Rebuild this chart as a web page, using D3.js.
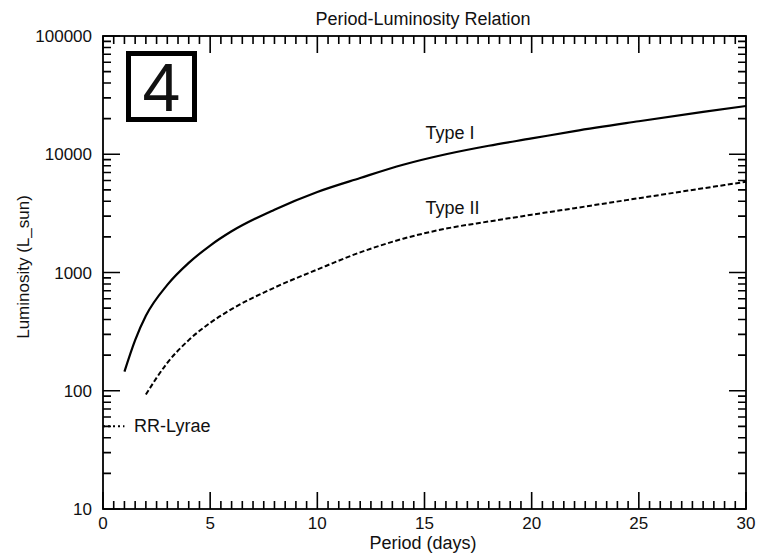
<!DOCTYPE html>
<html><head><meta charset="utf-8">
<script src="https://cdn.jsdelivr.net/npm/d3@7"></script>
<style>html,body{margin:0;padding:0;background:#fff;} svg{display:block;} text{font-family:"Liberation Sans",Arial,sans-serif;fill:#111;}</style>
</head><body>
<svg id="c" width="771" height="555"></svg>
<script>
// ---- data ----
const typeIPeriods = [1, 1.5, 2, 3, 4, 5, 6, 8, 10, 12, 14, 16, 18, 20, 22, 25, 28, 30];
const typeILum     = [145, 268, 430, 785, 1205, 1690, 2230, 3400, 4800, 6300, 8150, 10000, 11800, 13600, 15700, 19000, 22800, 25600];
const typeIIPeriods = [2, 3, 4, 5, 6, 8, 10, 12, 14, 16, 18, 20, 22, 25, 28, 30];
const typeIILum     = [93, 172, 268, 375, 490, 745, 1060, 1480, 1930, 2350, 2700, 3080, 3500, 4250, 5150, 5850];
const rrPeriods = [0, 1];
const rrLum = [50, 50];
const xMajorTicks = [0, 5, 10, 15, 20, 25, 30];
const yMajorTicks = [10, 100, 1000, 10000, 100000];
const yTickLabels = ["10", "100", "1000", "10000", "100000"];
const labels = {title: "Period-Luminosity Relation", x: "Period (days)", y: "Luminosity (L_sun)", panel: "4",
  typeI: "Type I", typeII: "Type II", rr: "RR-Lyrae"};

// ---- layout ----
const L = 103, R = 746, T = 36, B = 509;
const svg = d3.select("#c");
const x = d3.scaleLinear().domain([0, 30]).range([L, R]);
const y = d3.scaleLog().domain([10, 100000]).range([B, T]);

const xMinor = d3.range(0, 30.001, 0.5).filter(v => Math.abs(v % 5) > 1e-6);
const yMinor = [];
for (let i = 0; i < yMajorTicks.length - 1; i++) for (let k = 2; k <= 9; k++) yMinor.push(yMajorTicks[i] * k);

const MAJ = 17, MIN = 8;
const xt = xMajorTicks.map(v => [v, MAJ]).concat(xMinor.map(v => [v, MIN]));
const yt = yMajorTicks.map(v => [v, MAJ]).concat(yMinor.map(v => [v, MIN]));

// ticks on all four sides, pointing inward, drawn as one path
const p = d3.path();
xt.forEach(([v, len]) => {
  const px = x(v);
  p.moveTo(px, B); p.lineTo(px, B - len);
  p.moveTo(px, T); p.lineTo(px, T + len);
});
yt.forEach(([v, len]) => {
  const py = y(v);
  p.moveTo(L, py); p.lineTo(L + len, py);
  p.moveTo(R, py); p.lineTo(R - len, py);
});
svg.append("path").attr("d", p.toString()).attr("fill", "none").attr("stroke", "#000").attr("stroke-width", 1.6);

// frame
svg.append("rect").attr("x", x(0)).attr("y", y(100000)).attr("width", x(30) - x(0)).attr("height", y(10) - y(100000))
  .attr("fill", "none").attr("stroke", "#000").attr("stroke-width", 1.8);

// tick labels
svg.append("g").selectAll("text").data(xMajorTicks).join("text")
  .attr("x", d => x(d)).attr("y", 529).attr("text-anchor", "middle")
  .attr("font-size", 17).text(d => d);
svg.append("g").selectAll("text").data(yMajorTicks).join("text")
  .attr("x", 92).attr("y", d => y(d) + 6).attr("text-anchor", "end")
  .attr("font-size", 17).text((d, i) => yTickLabels[i]);

// titles
svg.append("text").attr("x", 423).attr("y", 25).attr("text-anchor", "middle").attr("font-size", 18).text(labels.title);
svg.append("text").attr("x", 423).attr("y", 549).attr("text-anchor", "middle").attr("font-size", 18).text(labels.x);
svg.append("text").attr("transform", "translate(29,267) rotate(-90)").attr("text-anchor", "middle").attr("font-size", 17).text(labels.y);

// curves
const line = d3.line().x(d => x(d[0])).y(d => y(d[1])).curve(d3.curveMonotoneX);
svg.append("path").attr("d", line(d3.zip(typeIPeriods, typeILum))).attr("fill", "none")
  .attr("stroke", "#000").attr("stroke-width", 2.2);
svg.append("path").attr("d", line(d3.zip(typeIIPeriods, typeIILum))).attr("fill", "none")
  .attr("stroke", "#000").attr("stroke-width", 2).attr("stroke-dasharray", "5,2.5");
svg.append("path").attr("d", line(d3.zip(rrPeriods, rrLum))).attr("fill", "none")
  .attr("stroke", "#000").attr("stroke-width", 2).attr("stroke-dasharray", "2,3");

// curve labels
svg.append("text").attr("x", x(15.05)).attr("y", y(13500)).attr("font-size", 18).text(labels.typeI);
svg.append("text").attr("x", x(15.05)).attr("y", y(3130)).attr("font-size", 18).text(labels.typeII);
svg.append("text").attr("x", x(1.45)).attr("y", y(50) + 6).attr("font-size", 18).text(labels.rr);

// panel number box
svg.append("rect").attr("x", 128.5).attr("y", 53.5).attr("width", 66).attr("height", 66)
  .attr("fill", "none").attr("stroke", "#000").attr("stroke-width", 5);
svg.append("text").attr("x", 161.5).attr("y", 111).attr("text-anchor", "middle").attr("font-size", 68).attr("fill", "#000").text(labels.panel);
</script>
</body></html>
